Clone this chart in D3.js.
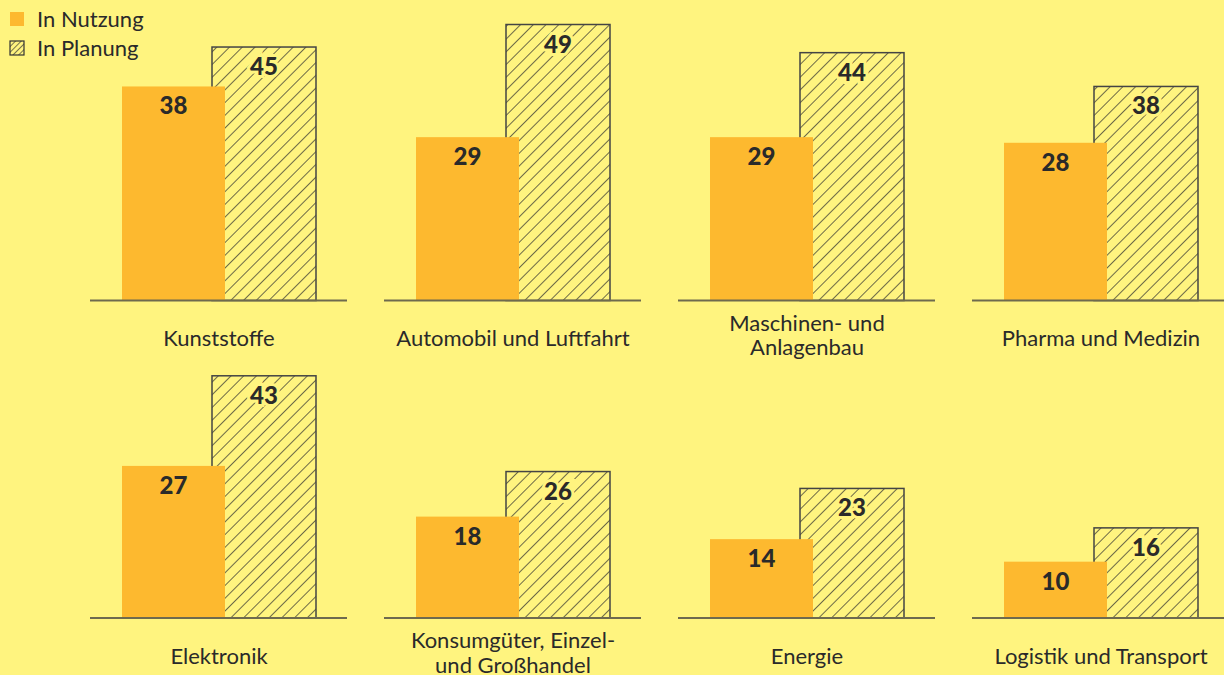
<!DOCTYPE html>
<html>
<head>
<meta charset="utf-8">
<script src="https://cdn.jsdelivr.net/npm/d3@7"></script>
<style>
  html, body { margin: 0; padding: 0; background: #fff47f; }
  svg { display: block; }
</style>
</head>
<body>
<script>
// data
const categories = [
  ["Kunststoffe"],
  ["Automobil und Luftfahrt"],
  ["Maschinen- und", "Anlagenbau"],
  ["Pharma und Medizin"],
  ["Elektronik"],
  ["Konsumgüter, Einzel-", "und Großhandel"],
  ["Energie"],
  ["Logistik und Transport"]
];
const inNutzung = [38, 29, 29, 28, 27, 18, 14, 10];
const inPlanung = [45, 49, 44, 38, 43, 26, 23, 16];
const seriesNames = ["In Nutzung", "In Planung"];

const width = 1224;
const height = 675;
const bg = "#fff47f";
const orange = "#fdb92f";
const ink = "#2a2a2a";

const svg = d3.select("body")
    .append("svg")
    .attr("width", width)
    .attr("height", height)
    .style("font-family", "Lato, 'Noto Sans', sans-serif");

svg.append("rect").attr("width", width).attr("height", height).attr("fill", bg);

// hatch pattern
const defs = svg.append("defs");
const pat = defs.append("pattern")
    .attr("id", "hatch")
    .attr("patternUnits", "userSpaceOnUse")
    .attr("width", 9)
    .attr("height", 9)
    .attr("patternTransform", "rotate(45)");
pat.append("rect").attr("width", 9).attr("height", 9).attr("fill", bg);
pat.append("line")
    .attr("x1", 0).attr("y1", 0).attr("x2", 0).attr("y2", 9)
    .attr("stroke", "#2e2e2e").attr("stroke-width", 1.4);

const patSmall = defs.append("pattern")
    .attr("id", "hatchSmall")
    .attr("patternUnits", "userSpaceOnUse")
    .attr("width", 4)
    .attr("height", 4)
    .attr("patternTransform", "rotate(45)");
patSmall.append("rect").attr("width", 4).attr("height", 4).attr("fill", bg);
patSmall.append("line")
    .attr("x1", 0).attr("y1", 0).attr("x2", 0).attr("y2", 4)
    .attr("stroke", "#2e2e2e").attr("stroke-width", 1.3);

// layout: 4 columns, 2 rows
const colX = d3.scaleLinear().domain([0, 1]).range([90, 384]);   // panel left edge
const rowBase = [300.5, 618];
const panelW = 257;
const y = d3.scaleLinear().domain([0, 49]).range([0, 276]);

const panels = svg.selectAll("g.panel")
    .data(categories.map((c, i) => ({ label: c, a: inNutzung[i], b: inPlanung[i], i })))
    .enter()
    .append("g")
    .attr("class", "panel")
    .attr("transform", d => `translate(${colX(d.i % 4)}, ${rowBase[Math.floor(d.i / 4)]})`);

// hatched (behind)
panels.append("rect")
    .attr("x", 122)
    .attr("y", d => -y(d.b))
    .attr("width", 104)
    .attr("height", d => y(d.b))
    .attr("fill", "url(#hatch)")
    .attr("stroke", "#444")
    .attr("stroke-width", 1.5);

// solid on top
panels.append("rect")
    .attr("x", 32)
    .attr("y", d => -y(d.a))
    .attr("width", 103)
    .attr("height", d => y(d.a))
    .attr("fill", orange);

// baseline
panels.append("line")
    .attr("x1", 0).attr("x2", panelW)
    .attr("y1", 0).attr("y2", 0)
    .attr("stroke", "#6e6a4e")
    .attr("stroke-width", 2);

// value labels
panels.append("text")
    .attr("x", 83.5)
    .attr("y", d => -y(d.a) + 28)
    .attr("text-anchor", "middle")
    .attr("font-size", 24)
    .attr("font-weight", 900)
    .attr("fill", ink)
    .text(d => d.a);

panels.append("text")
    .attr("x", 174)
    .attr("y", d => -y(d.b) + 28)
    .attr("text-anchor", "middle")
    .attr("font-size", 24)
    .attr("font-weight", 900)
    .attr("fill", ink)
    .attr("stroke", bg)
    .attr("stroke-width", 6)
    .attr("paint-order", "stroke")
    .text(d => d.b);

// category labels
panels.each(function (d) {
  const g = d3.select(this);
  const lines = d.label;
  const t = g.append("text")
      .attr("text-anchor", "middle")
      .attr("font-size", 22)
      .attr("fill", ink);
  lines.forEach((l, k) => {
    const by = lines.length === 1 ? 45.5 : 30 + k * 24.5;
    t.append("tspan").attr("x", 129).attr("y", by).text(l);
  });
});

// legend
const legend = svg.append("g").attr("transform", "translate(10, 12)");
seriesNames.forEach((s, k) => {
  legend.append("rect")
      .attr("x", 0).attr("y", k * 29)
      .attr("width", 14).attr("height", 14)
      .attr("fill", k === 0 ? orange : "url(#hatchSmall)")
      .attr("stroke", k === 0 ? "none" : "#333")
      .attr("stroke-width", 1.2);
  legend.append("text")
      .attr("x", 27).attr("y", k * 29 + 15)
      .attr("font-size", 22)
      .attr("fill", ink)
      .text(s);
});
</script>
</body>
</html>
